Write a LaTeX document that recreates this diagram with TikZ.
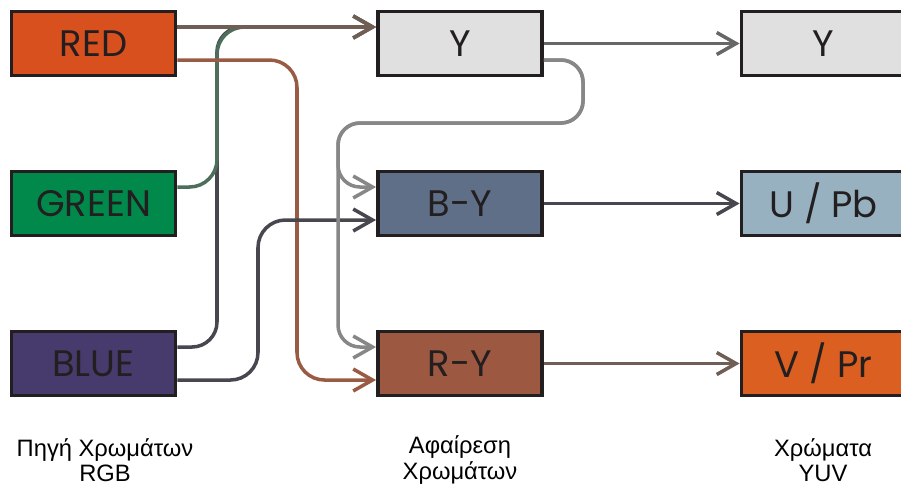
\documentclass[tikz,border=0pt]{standalone}
\usepackage{fontspec}
\setmainfont{Liberation Sans}
\newfontfamily\boxfont{Poppins}
\usetikzlibrary{arrows.meta,calc}

\definecolor{edge}{HTML}{231F20}
\definecolor{redfill}{HTML}{D9501F}
\definecolor{greenfill}{HTML}{00894B}
\definecolor{bluefill}{HTML}{463B6C}
\definecolor{lumafill}{HTML}{E0E0E0}
\definecolor{bmyfill}{HTML}{5F6F87}
\definecolor{rmyfill}{HTML}{9C5841}
\definecolor{pbfill}{HTML}{98B1C1}
\definecolor{prfill}{HTML}{DA5F20}
\definecolor{redwire}{HTML}{705E55}
\definecolor{redrywire}{HTML}{9A5B45}
\definecolor{greenwire}{HTML}{4E6E5C}
\definecolor{bluewire}{HTML}{48464F}
\definecolor{graywire}{HTML}{878787}
\definecolor{lumawire}{HTML}{676767}

\begin{document}
\begin{tikzpicture}[x=0.02cm, y=-0.02cm,
    chbox/.style={draw=edge, line width=2.2pt, minimum width=3.28cm,
      minimum height=1.28cm, inner sep=0pt, text=edge,
      font=\boxfont\fontsize{21}{23}\selectfont},
    wire/.style={line width=2pt, line join=round,
      -{Straight Barb[length=11pt, width=12.5pt]}},
    caption/.style={align=center, font=\fontsize{13.5}{14.5}\selectfont}]

    \clip (0,0) rectangle (901,488);

    % Source boxes
    \node[chbox, fill=redfill] (red) at (93.5,43.5) {RED};
    \node[chbox, fill=greenfill] (green) at (93.5,203.5) {GREEN};
    \node[chbox, fill=bluefill] (blue) at (93.5,363.5) {BLUE};

    % Subtraction boxes
    \node[chbox, fill=lumafill] (ymid) at (460,43.5) {Y};
    \node[chbox, fill=bmyfill] (bmy) at (460,203.5) {B-Y};
    \node[chbox, fill=rmyfill] (rmy) at (460,363.5) {R-Y};

    % Output boxes
    \node[chbox, fill=lumafill] (yout) at (823.5,43.5) {Y};
    \node[chbox, fill=pbfill] (pb) at (823.5,203.5) {U / Pb};
    \node[chbox, fill=prfill] (pr) at (823.5,363.5) {V / Pr};

    % Wires into Y
    \draw[wire, bluewire, rounded corners=0.5cm] ($(blue.east)+(0,-16.5)$) -| (217,27) -- ($(ymid.west)+(0,-16.5)$);
    \draw[wire, greenwire, rounded corners=0.55cm] ($(green.east)+(0,-16.5)$) -| (217,27) -- ($(ymid.west)+(0,-16.5)$);
    \draw[wire, redwire] ($(red.east)+(0,-16.5)$) -- ($(ymid.west)+(0,-16.5)$);

    % Wires into B-Y and R-Y
    \draw[wire, redrywire, rounded corners=0.55cm] ($(red.east)+(0,16.5)$) -| (297,380) -- ($(rmy.west)+(0,16.5)$);
    \draw[wire, bluewire, rounded corners=0.55cm] ($(blue.east)+(0,16.5)$) -| (258,220) -- ($(bmy.west)+(0,16.5)$);
    \draw[wire, graywire, rounded corners=0.44cm] ($(ymid.east)+(0,16.5)$) -| (583,123) -| (338,187) -- ($(bmy.west)+(0,-16.5)$);
    \draw[wire, graywire, rounded corners=0.44cm] ($(ymid.east)+(0,16.5)$) -| (583,123) -| (338,347) -- ($(rmy.west)+(0,-16.5)$);

    % Outputs
    \draw[wire, lumawire] (ymid) -- (yout);
    \draw[wire, bluewire] (bmy) -- (pb);
    \draw[wire, redwire] (rmy) -- (pr);

    % Captions
    \node[caption] (srccap) at (105,460) {Πηγή Χρωμάτων\\RGB};
    \node[caption] (subcap) at (460,460) {Αφαίρεση\\Χρωμάτων};
    \node[caption] (outcap) at (823,460) {Χρώματα\\YUV};
\end{tikzpicture}
\end{document}
